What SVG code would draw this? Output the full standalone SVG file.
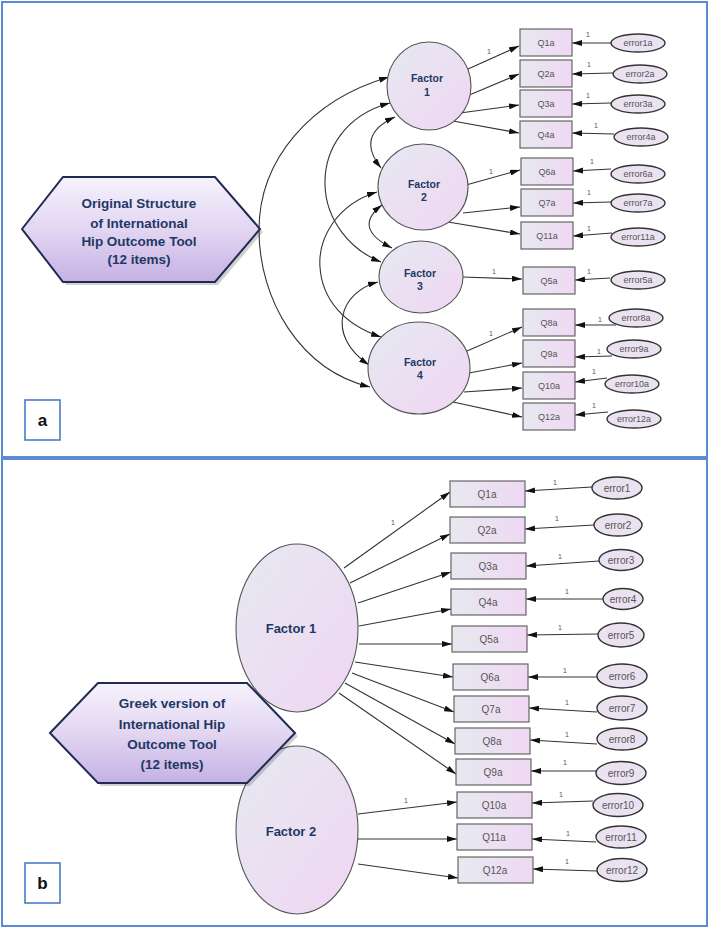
<svg xmlns="http://www.w3.org/2000/svg" width="709" height="929" viewBox="0 0 709 929">
<style>
.panel{fill:#fff;stroke:#5b8bd4;stroke-width:2}
.hex{stroke:#1f2a55;stroke-width:2;fill:url(#gHex)}
.hexsh{fill:#000;opacity:0.18}
.hext{font-family:"Liberation Sans",Arial,sans-serif;font-weight:bold;fill:#1f3864;text-anchor:middle}
.lab{fill:#fff;stroke:#4a7cc9;stroke-width:1.6}
.labt{font-family:"Liberation Sans",Arial,sans-serif;font-weight:bold;font-size:17px;fill:#111;text-anchor:middle}
.fac{fill:url(#gFac);stroke:#555;stroke-width:1.1}
.fact{font-family:"Liberation Sans",Arial,sans-serif;font-weight:bold;fill:#1f3864;text-anchor:middle}
.q{fill:url(#gQ);stroke:#666;stroke-width:1.2}
.qt{font-family:"Liberation Sans",Arial,sans-serif;fill:#555;text-anchor:middle}
.err{fill:#ebe2f1;stroke:#333;stroke-width:1.4}
.et{font-family:"Liberation Sans",Arial,sans-serif;fill:#555;text-anchor:middle}
.one{font-family:"Liberation Sans",Arial,sans-serif;font-size:7px;fill:#555;text-anchor:middle}
.c{fill:none;stroke:#333;stroke-width:1.1;marker-end:url(#ah)}
.cv{fill:none;stroke:#333;stroke-width:1.1;marker-start:url(#ah);marker-end:url(#ah)}
</style>
<defs>
<marker id="ah" viewBox="0 0 10 6" refX="10" refY="3" markerWidth="10" markerHeight="6" orient="auto-start-reverse" markerUnits="userSpaceOnUse"><path d="M0,0 L10,3 L0,6 z" fill="#111"/></marker>
<linearGradient id="gHex" x1="0" y1="0" x2="0" y2="1"><stop offset="0" stop-color="#f6f2fc"/><stop offset="0.5" stop-color="#e2d6f2"/><stop offset="1" stop-color="#c5b1e4"/></linearGradient>
<linearGradient id="gFac" x1="0" y1="0" x2="1" y2="1"><stop offset="0" stop-color="#e6e9f2"/><stop offset="1" stop-color="#f0d6f2"/></linearGradient>
<linearGradient id="gQ" x1="0" y1="0" x2="1" y2="0"><stop offset="0" stop-color="#e6e9f0"/><stop offset="1" stop-color="#f0d8f3"/></linearGradient>
</defs>

<rect class="panel" x="2" y="2" width="705" height="455"/>
<rect class="panel" x="2" y="459" width="705" height="467"/>

<!-- Panel a -->
<g id="hexA">
<polygon class="hexsh" points="25,232 66,180 218,180 263,232 218,285 66,285"/>
<polygon class="hex" points="22,229 63,177 215,177 260,229 215,282 63,282"/>
<text class="hext" font-size="13.5" x="139" y="208">Original Structure</text>
<text class="hext" font-size="13.5" x="139" y="228">of International</text>
<text class="hext" font-size="13.5" x="139" y="246">Hip Outcome Tool</text>
<text class="hext" font-size="13.5" x="139" y="264">(12 items)</text>
</g>
<g id="labelA"><rect class="lab" x="25" y="400" width="35" height="40"/><text class="labt" x="42.5" y="426">a</text></g>

<g id="connectorsA">
<path class="cv" d="M389,77 C310,100 259,160 259,230 C259,300 300,370 370,387"/>
<path class="cv" d="M390,103 C345,115 324,150 325,185 C326,220 350,250 381,262"/>
<path class="cv" d="M395,117 Q355,135 381,168"/>
<path class="cv" d="M377,192 C335,205 318,240 320,267 C322,300 345,325 381,337"/>
<path class="cv" d="M382,205 Q352,228 392,248"/>
<path class="cv" d="M378,282 C340,292 325,335 369,365"/>
<line class="c" x1="468" y1="69" x2="519" y2="46"/>
<line class="c" x1="467" y1="96" x2="519" y2="74"/>
<line class="c" x1="460" y1="113" x2="519" y2="105"/>
<line class="c" x1="453" y1="121" x2="519" y2="133"/>
<line class="c" x1="466" y1="185" x2="520" y2="170"/>
<line class="c" x1="463" y1="213" x2="520" y2="207"/>
<line class="c" x1="448" y1="222" x2="520" y2="234"/>
<line class="c" x1="462" y1="277" x2="522" y2="279"/>
<line class="c" x1="467" y1="351" x2="522" y2="327"/>
<line class="c" x1="469" y1="373" x2="522" y2="363"/>
<line class="c" x1="464" y1="392" x2="522" y2="388"/>
<line class="c" x1="453" y1="402" x2="522" y2="417"/>
<line class="c" x1="612" y1="43" x2="572" y2="43"/>
<line class="c" x1="613" y1="73" x2="572" y2="74"/>
<line class="c" x1="611" y1="103" x2="572" y2="104"/>
<line class="c" x1="614" y1="134" x2="572" y2="133"/>
<line class="c" x1="611" y1="169" x2="573" y2="171"/>
<line class="c" x1="611" y1="202" x2="573" y2="203"/>
<line class="c" x1="612" y1="233" x2="573" y2="236"/>
<line class="c" x1="610" y1="278" x2="575" y2="280"/>
<line class="c" x1="616" y1="325" x2="575" y2="325"/>
<line class="c" x1="612" y1="356" x2="575" y2="357"/>
<line class="c" x1="607" y1="378" x2="575" y2="382"/>
<line class="c" x1="608" y1="412" x2="575" y2="415"/>
<text class="one" x="489" y="54">1</text>
<text class="one" x="491" y="174">1</text>
<text class="one" x="494" y="274">1</text>
<text class="one" x="491" y="336">1</text>
<text class="one" x="588" y="37">1</text>
<text class="one" x="589" y="67">1</text>
<text class="one" x="588" y="98">1</text>
<text class="one" x="596" y="128">1</text>
<text class="one" x="592" y="164">1</text>
<text class="one" x="589" y="195">1</text>
<text class="one" x="589" y="231">1</text>
<text class="one" x="589" y="274">1</text>
<text class="one" x="600" y="322">1</text>
<text class="one" x="599" y="354">1</text>
<text class="one" x="594" y="374">1</text>
<text class="one" x="594" y="408">1</text>
</g>

<g id="F1a"><ellipse class="fac" cx="429" cy="86" rx="42" ry="44"/><text class="fact" font-size="10.5" x="427" y="82">Factor</text><text class="fact" font-size="10.5" x="427" y="96">1</text></g>
<g id="F2a"><ellipse class="fac" cx="423" cy="187" rx="45" ry="43"/><text class="fact" font-size="10.5" x="424" y="188">Factor</text><text class="fact" font-size="10.5" x="424" y="201">2</text></g>
<g id="F3a"><ellipse class="fac" cx="421" cy="277" rx="42" ry="36"/><text class="fact" font-size="10.5" x="420" y="277">Factor</text><text class="fact" font-size="10.5" x="420" y="290">3</text></g>
<g id="F4a"><ellipse class="fac" cx="419" cy="368" rx="51" ry="46"/><text class="fact" font-size="10.5" x="420" y="366">Factor</text><text class="fact" font-size="10.5" x="420" y="379">4</text></g>

<g id="Q1a_a"><rect class="q" x="520" y="29" width="52" height="27"/><text class="qt" font-size="9" x="546" y="45.5">Q1a</text></g>
<g id="Q2a_a"><rect class="q" x="520" y="60" width="52" height="27"/><text class="qt" font-size="9" x="546" y="76.5">Q2a</text></g>
<g id="Q3a_a"><rect class="q" x="520" y="90" width="52" height="27"/><text class="qt" font-size="9" x="546" y="106.5">Q3a</text></g>
<g id="Q4a_a"><rect class="q" x="520" y="121" width="52" height="27"/><text class="qt" font-size="9" x="546" y="137.5">Q4a</text></g>
<g id="Q6a_a"><rect class="q" x="521" y="158" width="52" height="27"/><text class="qt" font-size="9" x="547" y="174.5">Q6a</text></g>
<g id="Q7a_a"><rect class="q" x="521" y="189" width="52" height="27"/><text class="qt" font-size="9" x="547" y="205.5">Q7a</text></g>
<g id="Q11a_a"><rect class="q" x="521" y="222" width="52" height="27"/><text class="qt" font-size="9" x="547" y="238.5">Q11a</text></g>
<g id="Q5a_a"><rect class="q" x="523" y="267" width="52" height="27"/><text class="qt" font-size="9" x="549" y="283.5">Q5a</text></g>
<g id="Q8a_a"><rect class="q" x="523" y="309" width="52" height="27"/><text class="qt" font-size="9" x="549" y="325.5">Q8a</text></g>
<g id="Q9a_a"><rect class="q" x="523" y="340" width="52" height="27"/><text class="qt" font-size="9" x="549" y="356.5">Q9a</text></g>
<g id="Q10a_a"><rect class="q" x="523" y="372" width="52" height="27"/><text class="qt" font-size="9" x="549" y="388.5">Q10a</text></g>
<g id="Q12a_a"><rect class="q" x="523" y="403" width="52" height="27"/><text class="qt" font-size="9" x="549" y="419.5">Q12a</text></g>

<g id="e1a"><ellipse class="err" cx="638" cy="43" rx="27" ry="9"/><text class="et" font-size="9" x="638" y="46">error1a</text></g>
<g id="e2a"><ellipse class="err" cx="640" cy="74" rx="27" ry="9"/><text class="et" font-size="9" x="640" y="77">error2a</text></g>
<g id="e3a"><ellipse class="err" cx="638" cy="104" rx="27" ry="9"/><text class="et" font-size="9" x="638" y="107">error3a</text></g>
<g id="e4a"><ellipse class="err" cx="641" cy="137" rx="27" ry="9"/><text class="et" font-size="9" x="641" y="140">error4a</text></g>
<g id="e6a"><ellipse class="err" cx="638" cy="174" rx="27" ry="9"/><text class="et" font-size="9" x="638" y="177">error6a</text></g>
<g id="e7a"><ellipse class="err" cx="638" cy="203" rx="27" ry="9"/><text class="et" font-size="9" x="638" y="206">error7a</text></g>
<g id="e11a"><ellipse class="err" cx="638" cy="237" rx="27" ry="9"/><text class="et" font-size="9" x="638" y="240">error11a</text></g>
<g id="e5a"><ellipse class="err" cx="638" cy="280" rx="27" ry="9"/><text class="et" font-size="9" x="638" y="283">error5a</text></g>
<g id="e8a"><ellipse class="err" cx="636" cy="318" rx="27" ry="9"/><text class="et" font-size="9" x="636" y="321">error8a</text></g>
<g id="e9a"><ellipse class="err" cx="634" cy="349" rx="27" ry="9"/><text class="et" font-size="9" x="634" y="352">error9a</text></g>
<g id="e10a"><ellipse class="err" cx="632" cy="384" rx="27" ry="9"/><text class="et" font-size="9" x="632" y="387">error10a</text></g>
<g id="e12a"><ellipse class="err" cx="634" cy="419" rx="27" ry="9"/><text class="et" font-size="9" x="634" y="422">error12a</text></g>

<!-- Panel b -->
<g id="F1b"><ellipse class="fac" cx="297" cy="628" rx="61" ry="84"/><text class="fact" font-size="13" x="291" y="633">Factor 1</text></g>
<g id="F2b"><ellipse class="fac" cx="297" cy="830" rx="61" ry="84"/><text class="fact" font-size="13" x="291" y="836">Factor 2</text></g>
<g id="hexB">
<polygon class="hexsh" points="53,736 101,686 250,686 298,736 250,786 101,786"/>
<polygon class="hex" points="50,733 98,683 247,683 295,733 247,783 98,783"/>
<text class="hext" font-size="13.5" x="172" y="708">Greek version of</text>
<text class="hext" font-size="13.5" x="172" y="729">International Hip</text>
<text class="hext" font-size="13.5" x="172" y="749">Outcome Tool</text>
<text class="hext" font-size="13.5" x="172" y="769">(12 items)</text>
</g>
<g id="labelB"><rect class="lab" x="25" y="863" width="35" height="40"/><text class="labt" x="42.5" y="889">b</text></g>

<g id="connectorsB">
<line class="c" x1="344" y1="568" x2="450" y2="492"/>
<line class="c" x1="350" y1="583" x2="450" y2="534"/>
<line class="c" x1="358" y1="603" x2="451" y2="572"/>
<line class="c" x1="359" y1="626" x2="451" y2="609"/>
<line class="c" x1="359" y1="644" x2="452" y2="644"/>
<line class="c" x1="355" y1="662" x2="453" y2="677"/>
<line class="c" x1="352" y1="673" x2="454" y2="712"/>
<line class="c" x1="345" y1="683" x2="455" y2="744"/>
<line class="c" x1="339" y1="693" x2="456" y2="774"/>
<line class="c" x1="358" y1="814" x2="457" y2="802"/>
<line class="c" x1="358" y1="839" x2="457" y2="839"/>
<line class="c" x1="358" y1="864" x2="458" y2="878"/>
<line class="c" x1="592" y1="487" x2="525" y2="491"/>
<line class="c" x1="594" y1="525" x2="525" y2="529"/>
<line class="c" x1="599" y1="561" x2="526" y2="566"/>
<line class="c" x1="603" y1="599" x2="526" y2="599"/>
<line class="c" x1="598" y1="634" x2="527" y2="635"/>
<line class="c" x1="597" y1="677" x2="528" y2="677"/>
<line class="c" x1="597" y1="712" x2="529" y2="708"/>
<line class="c" x1="597" y1="744" x2="530" y2="740"/>
<line class="c" x1="596" y1="771" x2="531" y2="771"/>
<line class="c" x1="593" y1="801" x2="532" y2="803"/>
<line class="c" x1="596" y1="842" x2="532" y2="839"/>
<line class="c" x1="597" y1="871" x2="533" y2="869"/>
<text class="one" x="393" y="525">1</text>
<text class="one" x="406" y="803">1</text>
<text class="one" x="555" y="485">1</text>
<text class="one" x="557" y="521">1</text>
<text class="one" x="560" y="559">1</text>
<text class="one" x="567" y="594">1</text>
<text class="one" x="560" y="630">1</text>
<text class="one" x="565" y="673">1</text>
<text class="one" x="567" y="705">1</text>
<text class="one" x="567" y="737">1</text>
<text class="one" x="565" y="765">1</text>
<text class="one" x="561" y="797">1</text>
<text class="one" x="568" y="836">1</text>
<text class="one" x="567" y="864">1</text>
</g>

<g id="Q1a_b"><rect class="q" x="450" y="481" width="75" height="26"/><text class="qt" font-size="10" x="487" y="497.5">Q1a</text></g>
<g id="Q2a_b"><rect class="q" x="450" y="517" width="75" height="26"/><text class="qt" font-size="10" x="487" y="533.5">Q2a</text></g>
<g id="Q3a_b"><rect class="q" x="451" y="553" width="75" height="26"/><text class="qt" font-size="10" x="488" y="569.5">Q3a</text></g>
<g id="Q4a_b"><rect class="q" x="451" y="589" width="75" height="26"/><text class="qt" font-size="10" x="488" y="605.5">Q4a</text></g>
<g id="Q5a_b"><rect class="q" x="452" y="626" width="75" height="26"/><text class="qt" font-size="10" x="489" y="642.5">Q5a</text></g>
<g id="Q6a_b"><rect class="q" x="453" y="664" width="75" height="26"/><text class="qt" font-size="10" x="490" y="680.5">Q6a</text></g>
<g id="Q7a_b"><rect class="q" x="454" y="696" width="75" height="26"/><text class="qt" font-size="10" x="491" y="712.5">Q7a</text></g>
<g id="Q8a_b"><rect class="q" x="455" y="728" width="75" height="26"/><text class="qt" font-size="10" x="492" y="744.5">Q8a</text></g>
<g id="Q9a_b"><rect class="q" x="456" y="759" width="75" height="26"/><text class="qt" font-size="10" x="493" y="775.5">Q9a</text></g>
<g id="Q10a_b"><rect class="q" x="457" y="792" width="75" height="26"/><text class="qt" font-size="10" x="494" y="808.5">Q10a</text></g>
<g id="Q11a_b"><rect class="q" x="457" y="824" width="75" height="26"/><text class="qt" font-size="10" x="494" y="840.5">Q11a</text></g>
<g id="Q12a_b"><rect class="q" x="458" y="857" width="75" height="26"/><text class="qt" font-size="10" x="495" y="873.5">Q12a</text></g>

<g id="e1b"><ellipse class="err" cx="617" cy="488" rx="25" ry="11"/><text class="et" font-size="10" x="617" y="491.5">error1</text></g>
<g id="e2b"><ellipse class="err" cx="618" cy="525" rx="24" ry="11"/><text class="et" font-size="10" x="618" y="528.5">error2</text></g>
<g id="e3b"><ellipse class="err" cx="621" cy="560" rx="22" ry="10.5"/><text class="et" font-size="10" x="621" y="563.5">error3</text></g>
<g id="e4b"><ellipse class="err" cx="623" cy="599" rx="20" ry="10.5"/><text class="et" font-size="10" x="623" y="602.5">error4</text></g>
<g id="e5b"><ellipse class="err" cx="621" cy="635" rx="23" ry="12"/><text class="et" font-size="10" x="621" y="638.5">error5</text></g>
<g id="e6b"><ellipse class="err" cx="622" cy="676" rx="25" ry="12"/><text class="et" font-size="10" x="622" y="679.5">error6</text></g>
<g id="e7b"><ellipse class="err" cx="622" cy="708" rx="25" ry="12"/><text class="et" font-size="10" x="622" y="711.5">error7</text></g>
<g id="e8b"><ellipse class="err" cx="622" cy="739" rx="25" ry="11"/><text class="et" font-size="10" x="622" y="742.5">error8</text></g>
<g id="e9b"><ellipse class="err" cx="621" cy="773" rx="25" ry="11.5"/><text class="et" font-size="10" x="621" y="776.5">error9</text></g>
<g id="e10b"><ellipse class="err" cx="618" cy="805" rx="25" ry="11.5"/><text class="et" font-size="10" x="618" y="808.5">error10</text></g>
<g id="e11b"><ellipse class="err" cx="621" cy="837" rx="25" ry="11"/><text class="et" font-size="10" x="621" y="840.5">error11</text></g>
<g id="e12b"><ellipse class="err" cx="622" cy="870" rx="25" ry="11.5"/><text class="et" font-size="10" x="622" y="873.5">error12</text></g>
</svg>
